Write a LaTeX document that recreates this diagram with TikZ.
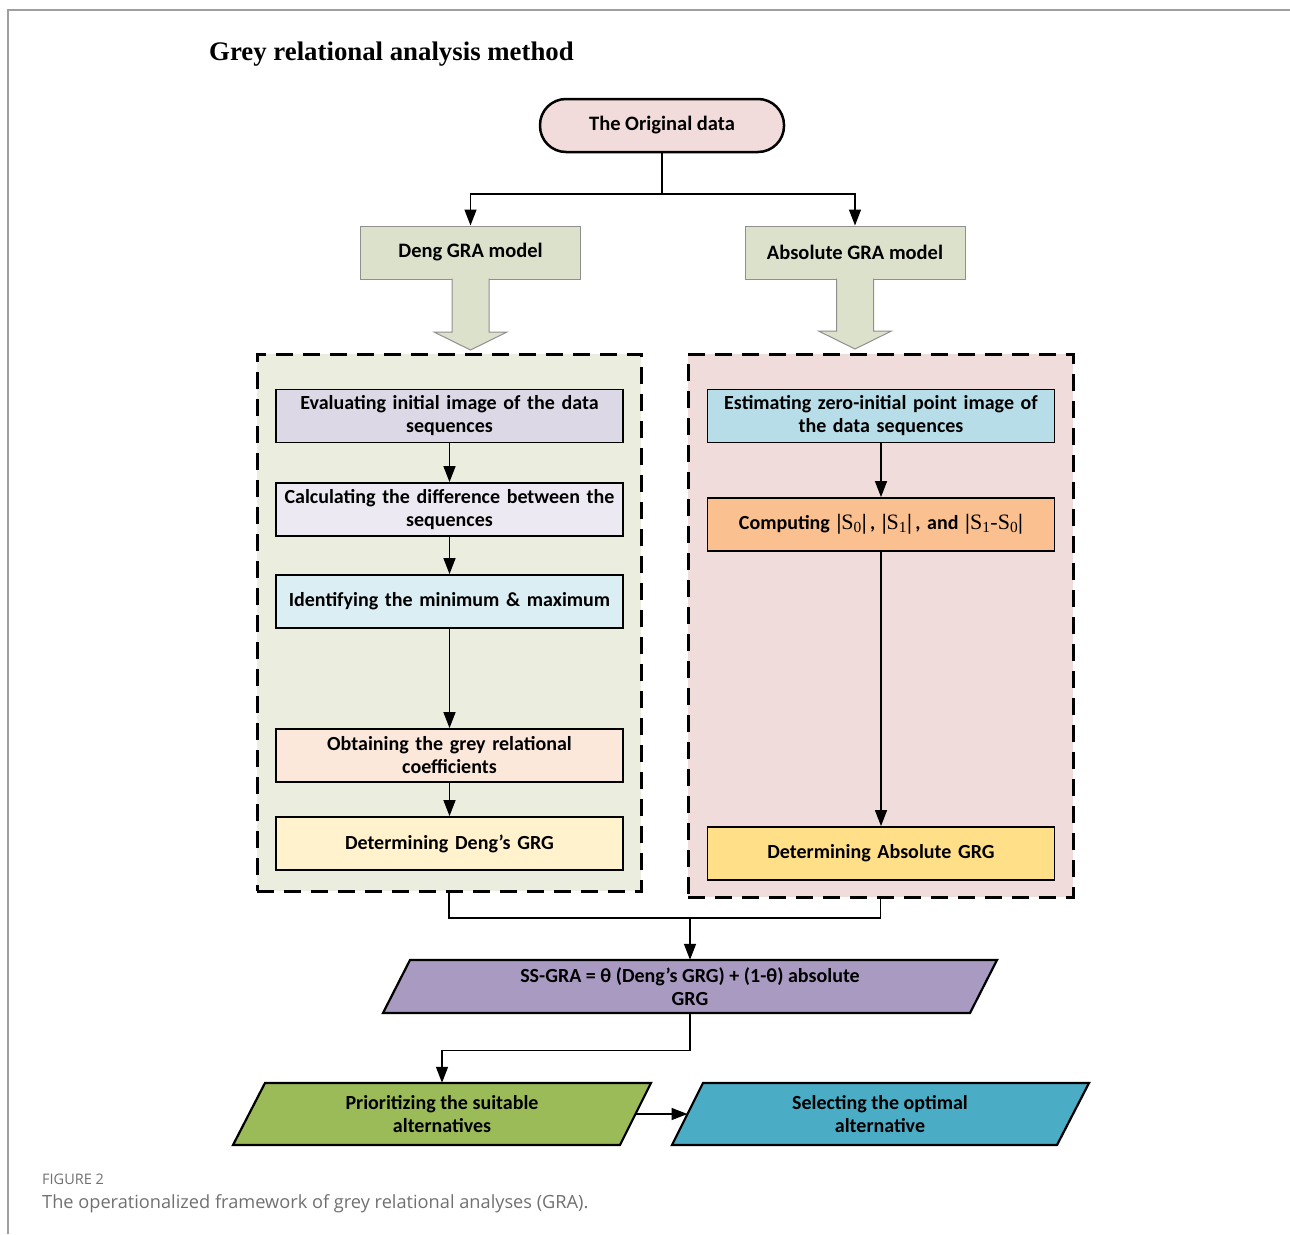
\documentclass[tikz,border=0pt]{standalone}
\usepackage{fontspec}
\setmainfont{Carlito}
\newfontfamily\titlefont{Liberation Serif}
\newfontfamily\capfont{Open Sans}
\usetikzlibrary{arrows.meta,calc}
\definecolor{origc}{HTML}{F2DCDB}
\definecolor{modelc}{HTML}{DCE1CC}
\definecolor{modeld}{HTML}{8F8F8F}
\definecolor{lcont}{HTML}{EBEEDF}
\definecolor{rcont}{HTML}{F0DCDB}
\definecolor{lone}{HTML}{DDD8E6}
\definecolor{ltwo}{HTML}{EDE9F2}
\definecolor{lthree}{HTML}{DAEEF3}
\definecolor{lfour}{HTML}{FCE7DB}
\definecolor{lfive}{HTML}{FFF2CC}
\definecolor{rone}{HTML}{B7DEE8}
\definecolor{rtwo}{HTML}{FAC090}
\definecolor{rthree}{HTML}{FFDF88}
\definecolor{ssc}{HTML}{A99AC2}
\definecolor{prc}{HTML}{9BBB59}
\definecolor{selc}{HTML}{4BACC6}
\definecolor{capc}{HTML}{707070}
\newcommand{\sabs}[1]{{\titlefont\fontsize{22}{23}\selectfont{\bfseries|}{\mdseries #1}{\bfseries|}}}
\begin{document}
\begin{tikzpicture}[x=1pt,y=-1pt,
  boxtext/.style={font=\fontsize{20}{23}\selectfont\bfseries, align=center},
  stepbox/.style={boxtext, draw=black, line width=1.8pt, minimum width=347pt, minimum height=53pt, inner sep=0pt, text width=342pt},
  modelbox/.style={boxtext, draw=modeld, fill=modelc, line width=1pt, minimum width=220pt, minimum height=53pt, inner sep=0pt},
  contbox/.style={draw=black, line width=3pt, dash pattern=on 17pt off 10pt, inner sep=0pt},
  plainnode/.style={boxtext, inner sep=0pt},
  ln/.style={line width=1.4pt},
  arr/.style={line width=1.4pt, -{Triangle[length=16pt,width=12pt]}},
  para/.style={draw=black, line width=2.2pt, line join=miter}
]
\useasboundingbox (0,0) rectangle (1290,1234);
% page frame
\draw[gray!75, line width=1.2pt] (8,1234) -- (8,10) -- (1290,10);
% title
\node[anchor=west, font=\titlefont\bfseries\fontsize{26.8}{30}\selectfont, inner sep=0pt] (title) at (209,54) {Grey relational analysis method};
% original data
\node[boxtext, font=\fontsize{20.5}{23}\selectfont\bfseries, draw=black, fill=origc, line width=2.5pt, rounded corners=26pt, minimum width=244pt, minimum height=53pt, inner sep=0pt] (orig) at (662,125.5) {The Original data};
% model boxes
\node[modelbox, font=\fontsize{20.5}{23}\selectfont\bfseries] (deng) at (470.5,252.5) {Deng GRA model};
\node[modelbox, font=\fontsize{20.5}{23}\selectfont\bfseries] (absm) at (855,252.5) {Absolute GRA model};
% connectors from original
\coordinate (split) at (662,194);
\draw[ln] (orig.south) -- (split);
\draw[arr] (split) -| (deng.north);
\draw[arr] (split) -| (absm.north);
% containers
\node[contbox, fill=lcont, minimum width=384pt, minimum height=537pt] (lc) at (449,622.5) {};
\node[contbox, fill=rcont, minimum width=385pt, minimum height=543pt] (rc) at (880.5,625.5) {};
% block arrows
\draw[draw=modeld, fill=modelc, line width=1pt, line join=miter] (452,278.6) -- (452,332) -- (434,332) -- (470.5,350) -- (507,332) -- (489,332) -- (489,278.6);
\draw[draw=modeld, fill=modelc, line width=1pt, line join=miter] (836.5,278.6) -- (836.5,331) -- (818.5,331) -- (855,349) -- (891.5,331) -- (873.5,331) -- (873.5,278.6);
% left steps
\node[stepbox, fill=lone] (l1) at (449.5,416) {Evaluating initial image of the data\\sequences};
\node[stepbox, fill=ltwo] (l2) at (449.5,509.5) {Calculating the difference between the\\sequences};
\node[stepbox, fill=lthree] (l3) at (449.5,601.5) {Identifying the minimum \& maximum};
\node[stepbox, fill=lfour] (l4) at (449.5,755.5) {Obtaining the grey relational\\coefficients};
\node[stepbox, fill=lfive] (l5) at (449.5,843.5) {Determining Deng’s GRG};
\draw[arr] (l1) -- (l2);
\draw[arr] (l2) -- (l3);
\draw[arr] (l3) -- (l4);
\draw[arr] (l4) -- (l5);
% right steps
\node[stepbox, fill=rone] (r1) at (881,416) {Estimating zero-initial point image of\\the data sequences};
\node[stepbox, fill=rtwo] (r2) at (881,524.5) {Computing \sabs{S\textsubscript{0}}\,, \sabs{S\textsubscript{1}}\,, and \sabs{S\textsubscript{1}-S\textsubscript{0}}};
\node[stepbox, fill=rthree] (r3) at (881,853.5) {Determining Absolute GRG};
\draw[arr] (r1) -- (r2);
\draw[arr] (r2) -- (r3);
% SS-GRA
\draw[para, fill=ssc] (410,960) -- (997,960) -- (970,1013) -- (383,1013) -- cycle;
\node[plainnode, minimum width=560pt, minimum height=53pt] (ss) at (690,986.5) {SS-GRA = θ (Deng’s GRG) + (1-θ) absolute\\GRG};
\coordinate (join) at (690,918);
\draw[ln] (lc.south) |- (join) -| (rc.south);
\draw[arr] (join) -- (ss.north);
% bottom parallelograms
\draw[para, fill=prc] (265,1083) -- (651,1083) -- (620,1145) -- (233,1145) -- cycle;
\node[plainnode, minimum width=360pt, minimum height=62pt] (pr) at (442,1114) {Prioritizing the suitable\\alternatives};
\draw[para, fill=selc] (703,1083) -- (1089,1083) -- (1057,1145) -- (672,1145) -- cycle;
\node[plainnode, minimum width=360pt, minimum height=62pt] (sel) at (880,1114) {Selecting the optimal\\alternative};
\draw[arr] (ss.south) -- ++(0,37) -| (pr.north);
\coordinate (prR) at (635.5,1114);
\coordinate (selL) at (687.5,1114);
\draw[arr] (prR) -- (selL);
% caption
\node[anchor=base west, inner sep=0pt, font=\capfont\fontsize{14.5}{16}\selectfont, text=capc] (fig) at (42,1184) {FIGURE 2};
\node[anchor=base west, inner sep=0pt, font=\capfont\fontsize{18.2}{20}\selectfont, text=capc] (cap) at (42,1208) {The operationalized framework of grey relational analyses (GRA).};
\end{tikzpicture}
\end{document}
